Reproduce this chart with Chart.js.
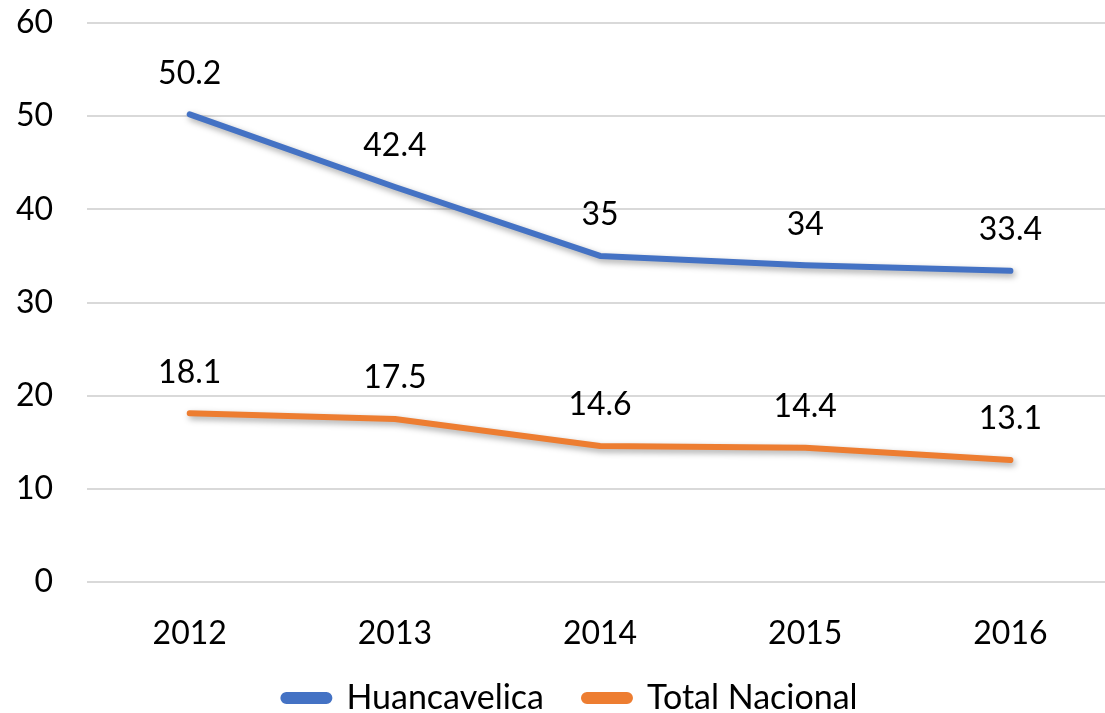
<!DOCTYPE html>
<html>
<head>
<meta charset="utf-8">
<script src="https://cdn.jsdelivr.net/npm/chart.js@4/dist/chart.umd.min.js"></script>
<style>
html,body{margin:0;padding:0;background:#fff;overflow:hidden;}
#wrap{width:1113px;height:713px;}
</style>
</head>
<body>
<div id="wrap"><canvas id="c" width="1113" height="713"></canvas></div>
<script>
const categories = ["2012", "2013", "2014", "2015", "2016"];
const huancavelica = [50.2, 42.4, 35, 34, 33.4];
const totalNacional = [18.1, 17.5, 14.6, 14.4, 13.1];
const seriesNames = ["Huancavelica", "Total Nacional"];
const yTicks = [0, 10, 20, 30, 40, 50, 60];

const FONT = "Lato, 'Open Sans', sans-serif";

const shadowPlugin = {
  id: 'shadow',
  beforeDatasetsDraw(chart) {
    const ctx = chart.ctx;
    ctx.save();
    ctx.shadowColor = 'rgba(0,0,0,0.35)';
    ctx.shadowBlur = 6;
    ctx.shadowOffsetX = 2;
    ctx.shadowOffsetY = 3;
  },
  afterDatasetsDraw(chart) {
    chart.ctx.restore();
  }
};

const labelPlugin = {
  id: 'dataLabels',
  afterDatasetsDraw(chart) {
    const ctx = chart.ctx;
    ctx.save();
    ctx.font = "32px " + FONT;
    ctx.fillStyle = '#000';
    ctx.textAlign = 'center';
    ctx.textBaseline = 'middle';
    chart.data.datasets.forEach((ds, i) => {
      const meta = chart.getDatasetMeta(i);
      meta.data.forEach((pt, j) => {
        ctx.fillText(String(ds.data[j]), pt.x, pt.y - 41);
      });
    });
    ctx.restore();
  }
};

const legendShift = {
  id: 'legendShift',
  afterLayout(chart) {
    const lg = chart.legend;
    if (!lg) return;
    lg.top -= 11;
    lg.height = 90;
    lg.bottom = lg.top + lg.height;
    lg.left += 23; lg.right += 23;
  }
};

new Chart(document.getElementById('c'), {
  type: 'line',
  data: {
    labels: categories,
    datasets: [
      {label: seriesNames[0], data: huancavelica, borderColor: '#4472C4', backgroundColor: '#4472C4', borderWidth: 6, pointRadius: 0, tension: 0, borderCapStyle: 'round', borderJoinStyle: 'round'},
      {label: seriesNames[1], data: totalNacional, borderColor: '#ED7D31', backgroundColor: '#ED7D31', borderWidth: 6, pointRadius: 0, tension: 0, borderCapStyle: 'round', borderJoinStyle: 'round'}
    ]
  },
  options: {
    responsive: false,
    animation: false,
    events: [],
    layout: {padding: {top: 23, right: 0, left: -18, bottom: 0}},
    plugins: {
      legend: {
        position: 'bottom',
        maxHeight: 61,
        labels: {
          font: {family: FONT, size: 34},
          color: '#000',
          boxWidth: 46,
          boxHeight: 6,
          useBorderRadius: true,
          borderRadius: 3,
          padding: 40
        }
      },
      tooltip: {enabled: false}
    },
    scales: {
      x: {
        offset: true,
        afterFit(axis) { axis.height = 70; },
        grid: {display: false, drawTicks: false},
        border: {display: false},
        ticks: {font: {family: FONT, size: 32}, color: '#000', padding: 32}
      },
      y: {
        min: 0, max: 60,
        afterBuildTicks(axis) { axis.ticks = yTicks.map(v => ({value: v})); },
        afterFit(axis) { axis.paddingTop = 0; axis.paddingBottom = 0; },
        grid: {color: '#d9d9d9', lineWidth: 2, drawTicks: false},
        border: {display: false},
        ticks: {font: {family: FONT, size: 32}, color: '#000', padding: 34}
      }
    }
  },
  plugins: [shadowPlugin, labelPlugin, legendShift]
});
</script>
</body>
</html>
